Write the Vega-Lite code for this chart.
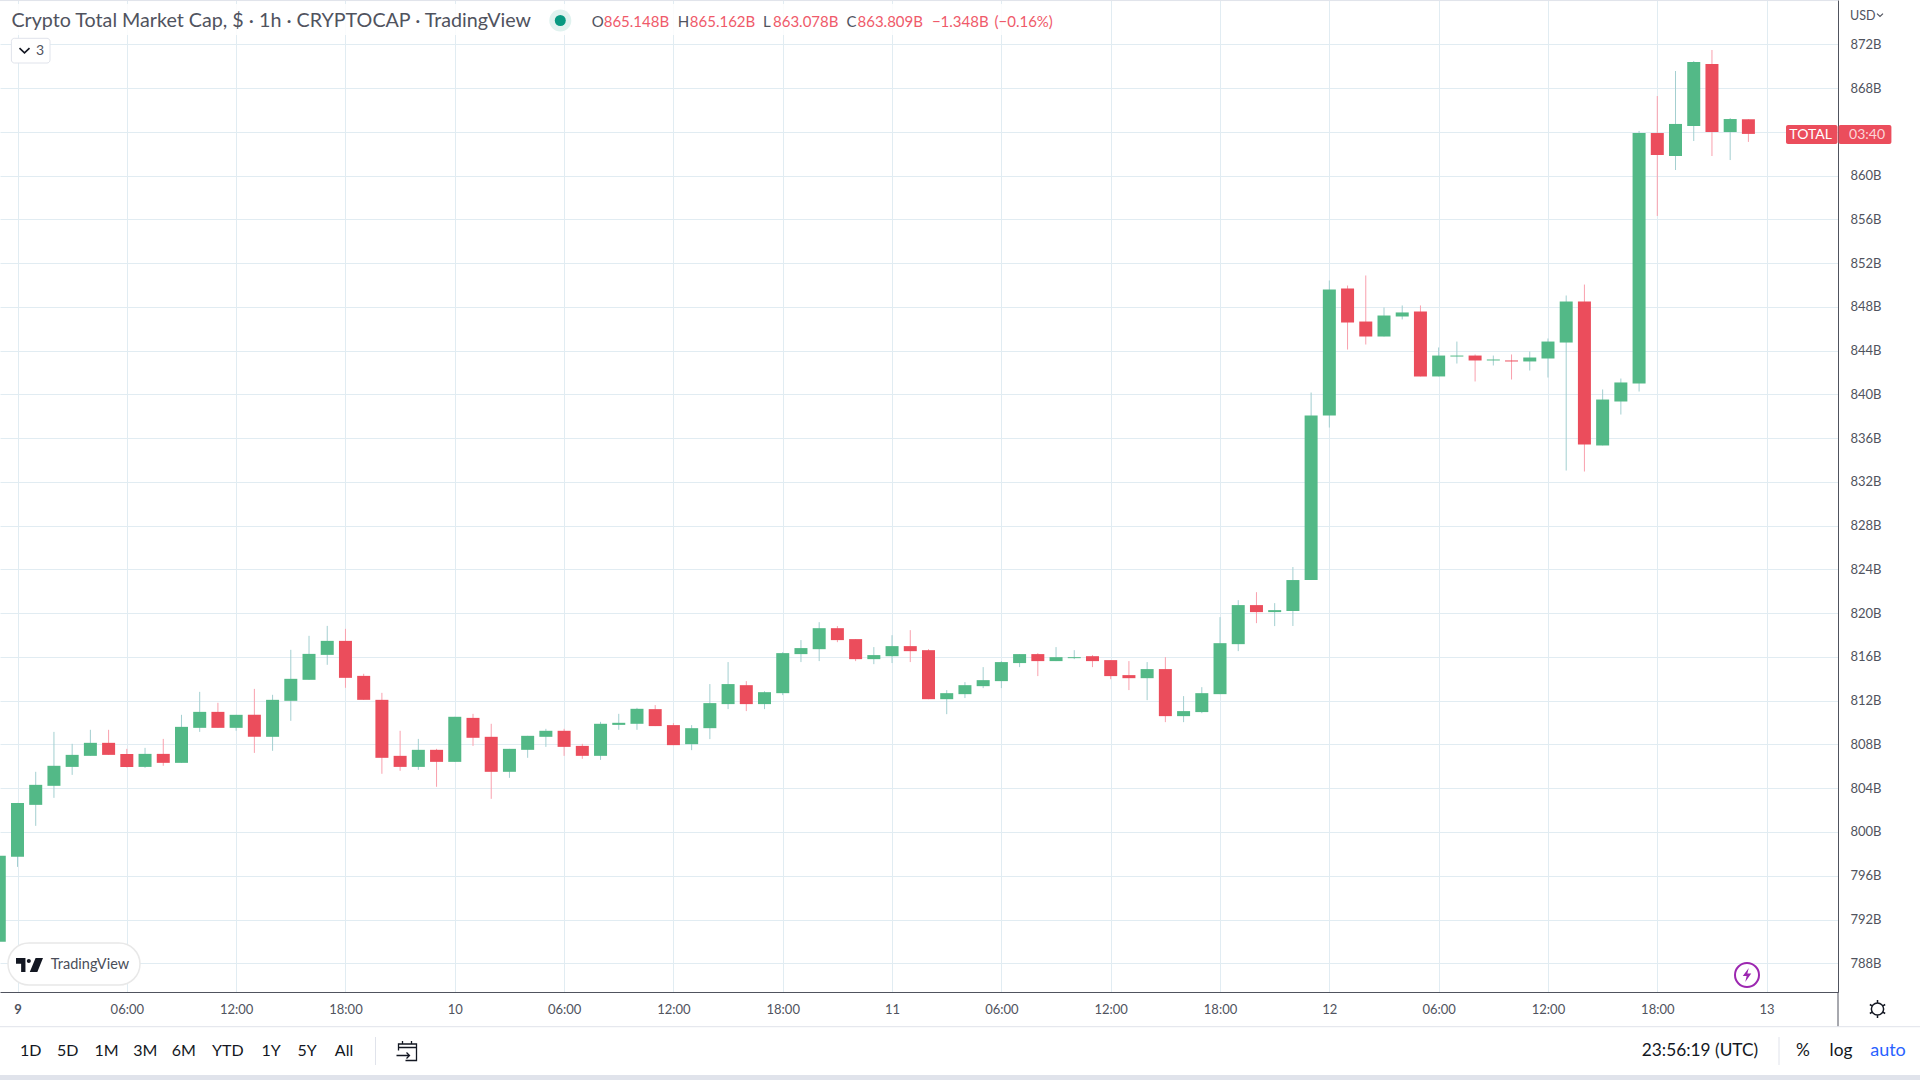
{
"$schema":"https://vega.github.io/schema/vega-lite/v6.json",
"width":1838,"height":992,"autosize":"none",
"padding":{"left":0,"top":0,"right":82,"bottom":88},
"background":"#ffffff",
"config":{"view":{"stroke":null}},
"data":{"name":"candles"},
"datasets":{
"candles":[
{"t":"2023-01-08T23:00:00Z","o":789.96,"h":797.82,"l":789.96,"c":797.82},
{"t":"2023-01-09T00:00:00Z","o":797.73,"h":802.66,"l":796.81,"c":802.66},
{"t":"2023-01-09T01:00:00Z","o":802.48,"h":805.50,"l":800.56,"c":804.31},
{"t":"2023-01-09T02:00:00Z","o":804.22,"h":809.15,"l":803.12,"c":806.05},
{"t":"2023-01-09T03:00:00Z","o":805.95,"h":808.06,"l":805.22,"c":807.05},
{"t":"2023-01-09T04:00:00Z","o":806.96,"h":809.34,"l":806.96,"c":808.15},
{"t":"2023-01-09T05:00:00Z","o":808.15,"h":809.34,"l":807.05,"c":807.05},
{"t":"2023-01-09T06:00:00Z","o":807.14,"h":807.60,"l":805.90,"c":805.95},
{"t":"2023-01-09T07:00:00Z","o":805.95,"h":807.69,"l":805.86,"c":807.14},
{"t":"2023-01-09T08:00:00Z","o":807.14,"h":808.51,"l":806.05,"c":806.32},
{"t":"2023-01-09T09:00:00Z","o":806.32,"h":810.71,"l":806.32,"c":809.61},
{"t":"2023-01-09T10:00:00Z","o":809.52,"h":812.81,"l":809.15,"c":810.98},
{"t":"2023-01-09T11:00:00Z","o":810.98,"h":811.81,"l":809.52,"c":809.52},
{"t":"2023-01-09T12:00:00Z","o":809.52,"h":810.71,"l":809.25,"c":810.71},
{"t":"2023-01-09T13:00:00Z","o":810.71,"h":813.08,"l":807.23,"c":808.70},
{"t":"2023-01-09T14:00:00Z","o":808.70,"h":812.54,"l":807.42,"c":812.08},
{"t":"2023-01-09T15:00:00Z","o":811.99,"h":816.65,"l":810.16,"c":814.00},
{"t":"2023-01-09T16:00:00Z","o":813.91,"h":817.93,"l":813.91,"c":816.28},
{"t":"2023-01-09T17:00:00Z","o":816.19,"h":818.84,"l":815.28,"c":817.47},
{"t":"2023-01-09T18:00:00Z","o":817.47,"h":818.57,"l":813.18,"c":814.09},
{"t":"2023-01-09T19:00:00Z","o":814.27,"h":814.46,"l":812.08,"c":812.08},
{"t":"2023-01-09T20:00:00Z","o":812.08,"h":812.72,"l":805.32,"c":806.78},
{"t":"2023-01-09T21:00:00Z","o":806.96,"h":809.25,"l":805.59,"c":805.95},
{"t":"2023-01-09T22:00:00Z","o":805.95,"h":808.51,"l":805.68,"c":807.51},
{"t":"2023-01-09T23:00:00Z","o":807.51,"h":807.60,"l":804.13,"c":806.41},
{"t":"2023-01-10T00:00:00Z","o":806.41,"h":810.53,"l":806.41,"c":810.53},
{"t":"2023-01-10T01:00:00Z","o":810.43,"h":810.80,"l":807.87,"c":808.61},
{"t":"2023-01-10T02:00:00Z","o":808.70,"h":809.89,"l":803.03,"c":805.50},
{"t":"2023-01-10T03:00:00Z","o":805.50,"h":807.60,"l":804.95,"c":807.60},
{"t":"2023-01-10T04:00:00Z","o":807.51,"h":808.79,"l":806.78,"c":808.79},
{"t":"2023-01-10T05:00:00Z","o":808.70,"h":809.43,"l":807.78,"c":809.25},
{"t":"2023-01-10T06:00:00Z","o":809.25,"h":809.43,"l":806.96,"c":807.78},
{"t":"2023-01-10T07:00:00Z","o":807.87,"h":808.06,"l":806.69,"c":806.96},
{"t":"2023-01-10T08:00:00Z","o":806.96,"h":810.07,"l":806.59,"c":809.89},
{"t":"2023-01-10T09:00:00Z","o":809.79,"h":810.80,"l":809.34,"c":809.98},
{"t":"2023-01-10T10:00:00Z","o":809.89,"h":811.35,"l":809.34,"c":811.26},
{"t":"2023-01-10T11:00:00Z","o":811.23,"h":811.60,"l":809.68,"c":809.68},
{"t":"2023-01-10T12:00:00Z","o":809.77,"h":809.95,"l":807.94,"c":807.94},
{"t":"2023-01-10T13:00:00Z","o":808.03,"h":809.77,"l":807.48,"c":809.49},
{"t":"2023-01-10T14:00:00Z","o":809.49,"h":813.52,"l":808.49,"c":811.78},
{"t":"2023-01-10T15:00:00Z","o":811.69,"h":815.53,"l":811.23,"c":813.52},
{"t":"2023-01-10T16:00:00Z","o":813.42,"h":813.79,"l":811.05,"c":811.69},
{"t":"2023-01-10T17:00:00Z","o":811.69,"h":812.87,"l":811.23,"c":812.78},
{"t":"2023-01-10T18:00:00Z","o":812.69,"h":816.44,"l":812.51,"c":816.35},
{"t":"2023-01-10T19:00:00Z","o":816.26,"h":817.54,"l":815.53,"c":816.81},
{"t":"2023-01-10T20:00:00Z","o":816.71,"h":819.18,"l":815.62,"c":818.63},
{"t":"2023-01-10T21:00:00Z","o":818.63,"h":818.82,"l":817.35,"c":817.54},
{"t":"2023-01-10T22:00:00Z","o":817.63,"h":817.63,"l":815.62,"c":815.80},
{"t":"2023-01-10T23:00:00Z","o":815.80,"h":816.90,"l":815.34,"c":816.17},
{"t":"2023-01-11T00:00:00Z","o":816.07,"h":817.99,"l":815.44,"c":816.99},
{"t":"2023-01-11T01:00:00Z","o":816.99,"h":818.45,"l":815.53,"c":816.53},
{"t":"2023-01-11T02:00:00Z","o":816.62,"h":816.71,"l":812.14,"c":812.14},
{"t":"2023-01-11T03:00:00Z","o":812.14,"h":812.97,"l":810.77,"c":812.69},
{"t":"2023-01-11T04:00:00Z","o":812.60,"h":813.70,"l":812.24,"c":813.42},
{"t":"2023-01-11T05:00:00Z","o":813.33,"h":815.07,"l":813.15,"c":813.88},
{"t":"2023-01-11T06:00:00Z","o":813.79,"h":815.62,"l":813.15,"c":815.53},
{"t":"2023-01-11T07:00:00Z","o":815.44,"h":816.26,"l":815.07,"c":816.26},
{"t":"2023-01-11T08:00:00Z","o":816.26,"h":816.35,"l":814.25,"c":815.62},
{"t":"2023-01-11T09:00:00Z","o":815.62,"h":816.90,"l":815.62,"c":815.98},
{"t":"2023-01-11T10:00:00Z","o":815.89,"h":816.62,"l":815.80,"c":815.98},
{"t":"2023-01-11T11:00:00Z","o":816.07,"h":816.17,"l":815.07,"c":815.62},
{"t":"2023-01-11T12:00:00Z","o":815.71,"h":815.71,"l":813.97,"c":814.25},
{"t":"2023-01-11T13:00:00Z","o":814.34,"h":815.62,"l":812.97,"c":814.06},
{"t":"2023-01-11T14:00:00Z","o":814.06,"h":815.53,"l":812.05,"c":814.89},
{"t":"2023-01-11T15:00:00Z","o":814.89,"h":815.98,"l":810.04,"c":810.59},
{"t":"2023-01-11T16:00:00Z","o":810.59,"h":812.42,"l":810.04,"c":811.05},
{"t":"2023-01-11T17:00:00Z","o":810.96,"h":813.24,"l":810.86,"c":812.69},
{"t":"2023-01-11T18:00:00Z","o":812.60,"h":819.64,"l":812.60,"c":817.26},
{"t":"2023-01-11T19:00:00Z","o":817.17,"h":821.19,"l":816.53,"c":820.74},
{"t":"2023-01-11T20:00:00Z","o":820.74,"h":821.92,"l":819.09,"c":820.10},
{"t":"2023-01-11T21:00:00Z","o":820.10,"h":820.92,"l":818.82,"c":820.28},
{"t":"2023-01-11T22:00:00Z","o":820.20,"h":824.22,"l":818.83,"c":823.03},
{"t":"2023-01-11T23:00:00Z","o":823.03,"h":840.17,"l":823.03,"c":838.07},
{"t":"2023-01-12T00:00:00Z","o":838.07,"h":850.41,"l":836.97,"c":849.59},
{"t":"2023-01-12T01:00:00Z","o":849.68,"h":849.95,"l":844.10,"c":846.57},
{"t":"2023-01-12T02:00:00Z","o":846.66,"h":850.87,"l":844.56,"c":845.29},
{"t":"2023-01-12T03:00:00Z","o":845.29,"h":847.94,"l":845.29,"c":847.21},
{"t":"2023-01-12T04:00:00Z","o":847.12,"h":848.13,"l":846.85,"c":847.49},
{"t":"2023-01-12T05:00:00Z","o":847.58,"h":848.13,"l":841.64,"c":841.64},
{"t":"2023-01-12T06:00:00Z","o":841.64,"h":844.29,"l":841.64,"c":843.55},
{"t":"2023-01-12T07:00:00Z","o":843.46,"h":844.83,"l":842.82,"c":843.55},
{"t":"2023-01-12T08:00:00Z","o":843.55,"h":843.65,"l":841.18,"c":843.10},
{"t":"2023-01-12T09:00:00Z","o":843.10,"h":843.55,"l":842.64,"c":843.19},
{"t":"2023-01-12T10:00:00Z","o":843.10,"h":843.65,"l":841.36,"c":843.01},
{"t":"2023-01-12T11:00:00Z","o":843.01,"h":843.92,"l":842.18,"c":843.37},
{"t":"2023-01-12T12:00:00Z","o":843.28,"h":845.11,"l":841.54,"c":844.83},
{"t":"2023-01-12T13:00:00Z","o":844.74,"h":849.04,"l":833.04,"c":848.49},
{"t":"2023-01-12T14:00:00Z","o":848.49,"h":850.04,"l":832.95,"c":835.42},
{"t":"2023-01-12T15:00:00Z","o":835.33,"h":840.45,"l":835.33,"c":839.53},
{"t":"2023-01-12T16:00:00Z","o":839.35,"h":841.45,"l":838.16,"c":841.09},
{"t":"2023-01-12T17:00:00Z","o":841.00,"h":864.08,"l":840.26,"c":863.89},
{"t":"2023-01-12T18:00:00Z","o":863.89,"h":867.27,"l":856.31,"c":861.88},
{"t":"2023-01-12T19:00:00Z","o":861.79,"h":869.56,"l":860.51,"c":864.72},
{"t":"2023-01-12T20:00:00Z","o":864.53,"h":870.47,"l":863.16,"c":870.38},
{"t":"2023-01-12T21:00:00Z","o":870.20,"h":871.48,"l":861.79,"c":863.98},
{"t":"2023-01-12T22:00:00Z","o":863.98,"h":865.26,"l":861.42,"c":865.17},
{"t":"2023-01-12T23:00:00Z","o":865.148,"h":865.162,"l":863.078,"c":863.809}
],
"boxes":[
{"kind":"backdrop","t":1673220522942,"t2":1673427987192,"v":875.684,"v2":872.851},
{"kind":"band","t":1673218942262,"t2":1673598305462,"v":777.787,"v2":777.33},
{"kind":"pill","t":1673220522942,"t2":1673246604162,"v":789.853,"v2":786.014},
{"kind":"drop","t":1673221194731,"t2":1673228821512,"v":872.549,"v2":870.291},
{"kind":"price","t":1673571829072,"t2":1673582004700,"v":864.624,"v2":862.887},
{"kind":"price","t":1673582202285,"t2":1673592654531,"v":864.624,"v2":862.887}
],
"lines":[
{"kind":"dark","t":1673582103492,"t2":1673582103492,"v":785.374,"v2":782.203},
{"kind":"light","t":1673218942262,"t2":1673598305462,"v":782.203,"v2":782.203},
{"kind":"light","t":1673293135430,"t2":1673293135430,"v":781.259,"v2":778.7},
{"kind":"light","t":1673570445977,"t2":1673570445977,"v":781.259,"v2":778.7},
{"kind":"light","t":1673218942262,"t2":1673582103492,"v":876.0,"v2":876.0}
],
"texts":[
{"kind":"title","label":"Crypto Total Market Cap, $ · 1h · CRYPTOCAP · TradingView","t":1673221194731,"v":874.13},
{"kind":"ohlcKey","label":"O","t":1673335853307,"v":874.066},
{"kind":"ohlcKey","label":"H","t":1673352845617,"v":874.066},
{"kind":"ohlcKey","label":"L","t":1673369699617,"v":874.066},
{"kind":"ohlcKey","label":"C","t":1673386197965,"v":874.066},
{"kind":"ohlcVal","label":"865.148B","t":1673338224327,"v":874.066},
{"kind":"ohlcVal","label":"865.162B","t":1673355236395,"v":874.066},
{"kind":"ohlcVal","label":"863.078B","t":1673371675467,"v":874.066},
{"kind":"ohlcVal","label":"863.809B","t":1673388371400,"v":874.066},
{"kind":"ohlcVal","label":"−1.348B","t":1673403071724,"v":874.066},
{"kind":"ohlcVal","label":"(−0.16%)","t":1673415440545,"v":874.066},
{"kind":"tool","label":"1D","t":1673224988363,"v":780.009},
{"kind":"tool","label":"5D","t":1673232338525,"v":780.009},
{"kind":"tool","label":"1M","t":1673239985065,"v":780.009},
{"kind":"tool","label":"3M","t":1673247651363,"v":780.009},
{"kind":"tool","label":"6M","t":1673255238627,"v":780.009},
{"kind":"tool","label":"YTD","t":1673263952125,"v":780.009},
{"kind":"tool","label":"1Y","t":1673272487797,"v":780.009},
{"kind":"tool","label":"5Y","t":1673279600857,"v":780.009},
{"kind":"tool","label":"All","t":1673286911502,"v":780.009},
{"kind":"tool2","label":"23:56:19 (UTC)","t":1673554836762,"v":780.009},
{"kind":"tool2","label":"%","t":1673575188017,"v":780.009},
{"kind":"tool2","label":"log","t":1673582696247,"v":780.009},
{"kind":"auto","label":"auto","t":1673591982742,"v":780.009},
{"kind":"usd","label":"USD","t":1673584474512,"v":874.587},
{"kind":"total","label":"TOTAL","t":1673576689663,"v":863.71},
{"kind":"timer","label":"03:40","t":1673587833457,"v":863.71},
{"kind":"brand","label":"TradingView","t":1673236724912,"v":787.842},
{"kind":"count","label":"3","t":1673226845662,"v":871.416}
],
"icons":[
{"kind":"halo","t":1673329649138,"v":874.176},
{"kind":"dot","t":1673329649138,"v":874.176},
{"kind":"logo","t":1673224771020,"v":787.842},
{"kind":"bolt","t":1673564123257,"v":786.928},
{"kind":"gear","t":1673589908100,"v":783.82},
{"kind":"calendar","t":1673299260565,"v":779.981},
{"kind":"chev","t":1673223783095,"v":871.44},
{"kind":"chev2","t":1673590402062,"v":874.68}
]
},
"encoding":{
"x":{"field":"t","type":"temporal","title":null,
"scale":{"domain":["2023-01-08T23:02:22.262Z","2023-01-13T03:55:03.492Z"],"padding":0},
"axis":{"values":["2023-01-09T00:00:00Z","2023-01-09T06:00:00Z","2023-01-09T12:00:00Z","2023-01-09T18:00:00Z","2023-01-10T00:00:00Z","2023-01-10T06:00:00Z","2023-01-10T12:00:00Z","2023-01-10T18:00:00Z","2023-01-11T00:00:00Z","2023-01-11T06:00:00Z","2023-01-11T12:00:00Z","2023-01-11T18:00:00Z","2023-01-12T00:00:00Z","2023-01-12T06:00:00Z","2023-01-12T12:00:00Z","2023-01-12T18:00:00Z","2023-01-13T00:00:00Z"],"grid":true,"gridColor":"#e1ecf2","gridWidth":1,"ticks":false,"domain":true,"domainColor":"#50535e","domainWidth":1,"labelFont":"Lato","labelFontSize":13,"labelColor":"#50535e","labelBaseline":"middle","labelPadding":17,"labelOverlap":false,"labelFlush":false,"labelExpr":"utchours(datum.value)==0 ? utcFormat(datum.value,'%-d') : utcFormat(datum.value,'%H:%M')","labelFontWeight":{"condition":{"test":"utcdate(datum.value)==9 && utchours(datum.value)==0","value":"bold"},"value":"normal"}}}
},
"layer":[
{"mark":{"type":"rule","strokeWidth":1,"clip":true},
"encoding":{"y":{"field":"l","type":"quantitative","title":null,"scale":{"domain":[785.374,876.05],"zero":false,"nice":false},
"axis":{"orient":"right","values":[788,792,796,800,804,808,812,816,820,824,828,832,836,840,844,848,852,856,860,864,868,872],"grid":true,"gridColor":"#e1ecf2","gridWidth":1,"ticks":false,"domain":true,"domainColor":"#50535e","domainWidth":1,"labelFont":"Lato","labelFontSize":13,"labelColor":"#50535e","labelPadding":12,"labelExpr":"datum.value+'B'","labelOverlap":false,"labelFlush":false}},
"y2":{"field":"h"},
"color":{"condition":{"test":"datum.c>=datum.o","value":"#a3cfd0"},"value":"#f9a0ad"}}},
{"mark":{"type":"bar","size":13,"clip":true},
"encoding":{"y":{"field":"o","type":"quantitative"},"y2":{"field":"c"},
"color":{"condition":{"test":"datum.c>=datum.o","value":"#53b987"},"value":"#eb4d5c"}}},
{"data":{"name":"boxes"},"transform":[{"filter":"datum.kind=='backdrop'"}],"mark":{"type":"rect","fill":"#ffffff","opacity":0.85},
"encoding":{"x2":{"field":"t2"},"y":{"field":"v","type":"quantitative"},"y2":{"field":"v2"}}},
{"data":{"name":"boxes"},"transform":[{"filter":"datum.kind=='band'"}],"mark":{"type":"rect","fill":"#e0e3eb"},
"encoding":{"x2":{"field":"t2"},"y":{"field":"v","type":"quantitative"},"y2":{"field":"v2"}}},
{"data":{"name":"boxes"},"transform":[{"filter":"datum.kind=='pill'"}],"mark":{"type":"rect","fill":"#ffffff","stroke":"#e8e8e8","strokeWidth":1.5,"cornerRadius":21},
"encoding":{"x2":{"field":"t2"},"y":{"field":"v","type":"quantitative"},"y2":{"field":"v2"}}},
{"data":{"name":"boxes"},"transform":[{"filter":"datum.kind=='drop'"}],"mark":{"type":"rect","fill":"#ffffff","stroke":"#e0e3eb","strokeWidth":1,"cornerRadius":3},
"encoding":{"x2":{"field":"t2"},"y":{"field":"v","type":"quantitative"},"y2":{"field":"v2"}}},
{"data":{"name":"boxes"},"transform":[{"filter":"datum.kind=='price'"}],"mark":{"type":"rect","fill":"#eb4d5c","cornerRadius":2},
"encoding":{"x2":{"field":"t2"},"y":{"field":"v","type":"quantitative"},"y2":{"field":"v2"}}},
{"data":{"name":"lines"},"transform":[{"filter":"datum.kind=='dark'"}],"mark":{"type":"rule","stroke":"#50535e","strokeWidth":1},
"encoding":{"x2":{"field":"t2"},"y":{"field":"v","type":"quantitative"},"y2":{"field":"v2"}}},
{"data":{"name":"lines"},"transform":[{"filter":"datum.kind=='light'"}],"mark":{"type":"rule","stroke":"#e0e3eb","strokeWidth":1},
"encoding":{"x2":{"field":"t2"},"y":{"field":"v","type":"quantitative"},"y2":{"field":"v2"}}},
{"data":{"name":"texts"},"transform":[{"filter":"datum.kind=='title'"}],"mark":{"type":"text","align":"left","baseline":"middle","font":"Lato","fontSize":19.7,"fill":"#50535e"},
"encoding":{"y":{"field":"v","type":"quantitative"},"text":{"field":"label"}}},
{"data":{"name":"texts"},"transform":[{"filter":"datum.kind=='ohlcKey'"}],"mark":{"type":"text","align":"left","baseline":"middle","font":"Lato","fontSize":15,"fill":"#50535e"},
"encoding":{"y":{"field":"v","type":"quantitative"},"text":{"field":"label"}}},
{"data":{"name":"texts"},"transform":[{"filter":"datum.kind=='ohlcVal'"}],"mark":{"type":"text","align":"left","baseline":"middle","font":"Lato","fontSize":15,"fill":"#ef5a6a"},
"encoding":{"y":{"field":"v","type":"quantitative"},"text":{"field":"label"}}},
{"data":{"name":"texts"},"transform":[{"filter":"datum.kind=='tool'"}],"mark":{"type":"text","align":"center","baseline":"middle","font":"Lato","fontSize":16,"fill":"#131722"},
"encoding":{"y":{"field":"v","type":"quantitative"},"text":{"field":"label"}}},
{"data":{"name":"texts"},"transform":[{"filter":"datum.kind=='tool2'"}],"mark":{"type":"text","align":"center","baseline":"middle","font":"Lato","fontSize":17.3,"fill":"#131722"},
"encoding":{"y":{"field":"v","type":"quantitative"},"text":{"field":"label"}}},
{"data":{"name":"texts"},"transform":[{"filter":"datum.kind=='auto'"}],"mark":{"type":"text","align":"center","baseline":"middle","font":"Lato","fontSize":18,"fill":"#2962ff"},
"encoding":{"y":{"field":"v","type":"quantitative"},"text":{"field":"label"}}},
{"data":{"name":"texts"},"transform":[{"filter":"datum.kind=='usd'"}],"mark":{"type":"text","align":"left","baseline":"middle","font":"Lato","fontSize":12.5,"fill":"#50535e"},
"encoding":{"y":{"field":"v","type":"quantitative"},"text":{"field":"label"}}},
{"data":{"name":"texts"},"transform":[{"filter":"datum.kind=='total'"}],"mark":{"type":"text","align":"center","baseline":"middle","font":"Lato","fontSize":14,"fill":"#ffffff"},
"encoding":{"y":{"field":"v","type":"quantitative"},"text":{"field":"label"}}},
{"data":{"name":"texts"},"transform":[{"filter":"datum.kind=='timer'"}],"mark":{"type":"text","align":"center","baseline":"middle","font":"Lato","fontSize":14,"fill":"#fbd5d9"},
"encoding":{"y":{"field":"v","type":"quantitative"},"text":{"field":"label"}}},
{"data":{"name":"texts"},"transform":[{"filter":"datum.kind=='brand'"}],"mark":{"type":"text","align":"center","baseline":"middle","font":"Lato","fontSize":14.5,"fill":"#4a4e59"},
"encoding":{"y":{"field":"v","type":"quantitative"},"text":{"field":"label"}}},
{"data":{"name":"texts"},"transform":[{"filter":"datum.kind=='count'"}],"mark":{"type":"text","align":"center","baseline":"middle","font":"Lato","fontSize":14,"fill":"#50535e"},
"encoding":{"y":{"field":"v","type":"quantitative"},"text":{"field":"label"}}},
{"data":{"name":"icons"},"transform":[{"filter":"datum.kind=='halo'"}],"mark":{"type":"point","shape":"circle","filled":true,"size":484,"fill":"#e0f2ef","opacity":1},
"encoding":{"y":{"field":"v","type":"quantitative"}}},
{"data":{"name":"icons"},"transform":[{"filter":"datum.kind=='dot'"}],"mark":{"type":"point","shape":"circle","filled":true,"size":121,"fill":"#089981","opacity":1},
"encoding":{"y":{"field":"v","type":"quantitative"}}},
{"data":{"name":"icons"},"transform":[{"filter":"datum.kind=='logo'"}],"mark":{"type":"point","shape":"M-1,-0.52 H-0.3 V0.52 H-0.62 V-0.1 H-1 Z M-0.2,-0.3 A0.15,0.15 0 1 1 0.1,-0.3 A0.15,0.15 0 1 1 -0.2,-0.3 Z M0.45,-0.52 H1 L0.58,0.52 H0.02 Z","filled":true,"size":729,"fill":"#131722","opacity":1},
"encoding":{"y":{"field":"v","type":"quantitative"}}},
{"data":{"name":"icons"},"transform":[{"filter":"datum.kind=='bolt'"}],"mark":{"type":"point","shape":"circle","filled":true,"size":576,"fill":"#ffffff","stroke":"#9c27b0","strokeWidth":2,"opacity":1},
"encoding":{"y":{"field":"v","type":"quantitative"}}},
{"data":{"name":"icons"},"transform":[{"filter":"datum.kind=='bolt'"}],"mark":{"type":"point","shape":"M0.25,-1 L-0.6,0.15 H-0.05 L-0.25,1 L0.6,-0.2 H0.05 Z","filled":true,"size":200,"fill":"#9c27b0","opacity":1},
"encoding":{"y":{"field":"v","type":"quantitative"}}},
{"data":{"name":"icons"},"transform":[{"filter":"datum.kind=='gear'"}],"mark":{"type":"point","shape":"M-0.68,0 A0.68,0.68 0 1 1 0.68,0 A0.68,0.68 0 1 1 -0.68,0 Z M0,-1 V-0.68 M0,0.68 V1 M-0.85,-0.5 L-0.6,-0.35 M0.85,-0.5 L0.6,-0.35 M-0.85,0.5 L-0.6,0.35 M0.85,0.5 L0.6,0.35","filled":false,"size":324,"stroke":"#131722","strokeWidth":1.5,"opacity":1},
"encoding":{"y":{"field":"v","type":"quantitative"}}},
{"data":{"name":"icons"},"transform":[{"filter":"datum.kind=='calendar'"}],"mark":{"type":"point","shape":"M-0.8,-0.05 V-0.7 H1 V0.95 H-0.1 M-0.8,-0.35 H1 M-1,0.45 H0.3 M0,0.15 L0.3,0.45 L0,0.75 M-0.4,-1 V-0.7 M0.5,-1 V-0.7","filled":false,"size":400,"stroke":"#131722","strokeWidth":1.3,"opacity":1},
"encoding":{"y":{"field":"v","type":"quantitative"}}},
{"data":{"name":"icons"},"transform":[{"filter":"datum.kind=='chev'"}],"mark":{"type":"point","shape":"M-1,-0.45 L0,0.5 L1,-0.45","filled":false,"size":100,"stroke":"#131722","strokeWidth":1.6,"opacity":1},
"encoding":{"y":{"field":"v","type":"quantitative"}}},
{"data":{"name":"icons"},"transform":[{"filter":"datum.kind=='chev2'"}],"mark":{"type":"point","shape":"M-1,-0.45 L0,0.5 L1,-0.45","filled":false,"size":36,"stroke":"#50535e","strokeWidth":1.2,"opacity":1},
"encoding":{"y":{"field":"v","type":"quantitative"}}}
]
}
